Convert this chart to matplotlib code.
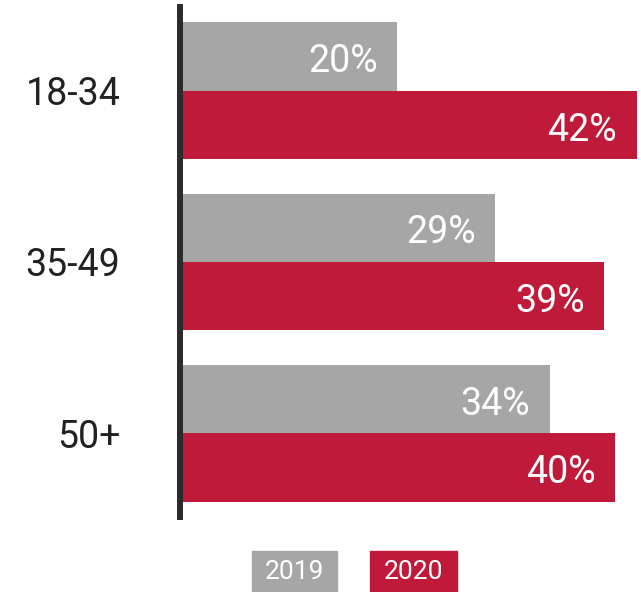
import matplotlib
matplotlib.use("Agg")
import matplotlib.pyplot as plt
from matplotlib.patches import Rectangle

AGE_GROUPS = ["18-34", "35-49", "50+"]
SHARE_2019 = [20, 29, 34]
SHARE_2020 = [42, 39, 40]
YEARS = ["2019", "2020"]

GRAY = "#a6a6a6"
RED = "#c01a3b"

plt.rcParams["font.family"] = ["Roboto", "DejaVu Sans"]

fig = plt.figure(figsize=(6.41, 5.92), dpi=100)
ax = fig.add_axes([180 / 641, 1 - 517 / 592, 461 / 641, 510 / 592])

ypos = list(range(len(AGE_GROUPS)))
h = 0.4
bars19 = ax.barh([y - h / 2 for y in ypos], SHARE_2019, height=h, color=GRAY)
bars20 = ax.barh([y + h / 2 for y in ypos], SHARE_2020, height=h, color=RED)

for bars, vals in [(bars19, SHARE_2019), (bars20, SHARE_2020)]:
    for b, v in zip(bars, vals):
        ax.text(v - 1.8, b.get_y() + b.get_height() / 2 + 0.03, f"{v}%",
                ha="right", va="center", color="white", fontsize=27)

ax.set_xlim(0, 42.4)
ax.set_ylim(2.49, -0.49)
ax.set_yticks(ypos, AGE_GROUPS, fontsize=27, color="#222222")
ax.tick_params(axis="y", length=0, pad=43)
ax.set_xticks([])

for s in ["top", "right", "bottom"]:
    ax.spines[s].set_visible(False)
ax.spines["left"].set_linewidth(4.3)
ax.spines["left"].set_color("#2b2b2b")

# legend boxes at the bottom
W, H = 641, 592
for x0, x1, col, label in [(252, 337, GRAY, YEARS[0]), (370, 457, RED, YEARS[1])]:
    fig.patches.append(Rectangle((x0 / W, 0), (x1 - x0) / W, 41 / H,
                                 transform=fig.transFigure, color=col))
    fig.text((x0 + x1) / 2 / W, 20 / H, label, ha="center", va="center",
             color="white", fontsize=19)

fig.savefig("out.png", dpi=100)
